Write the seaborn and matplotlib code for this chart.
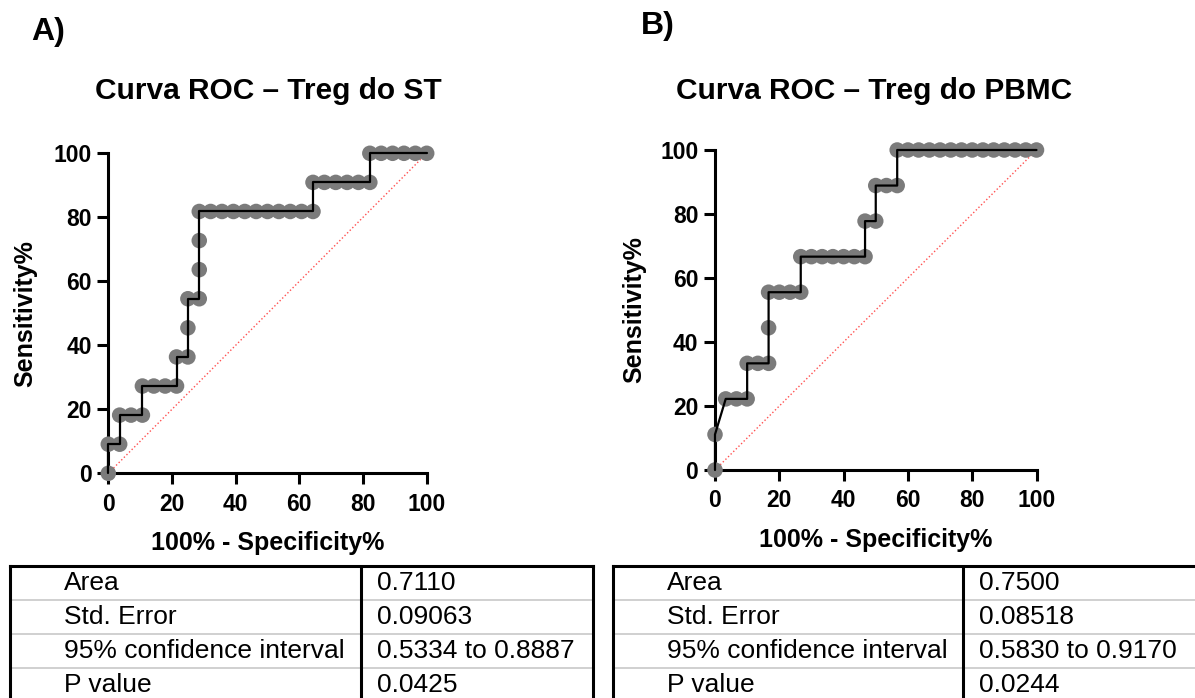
import matplotlib
matplotlib.use("Agg")
import matplotlib.pyplot as plt
import seaborn as sns
import pandas as pd

# ROC points (100% - Specificity%, Sensitivity%)
st_fpr = [0, 0, 3.571, 3.571, 7.143, 10.71, 10.71, 14.29, 17.86, 21.43, 21.43, 25.0, 25.0, 25.0,
          28.57, 28.57, 28.57, 28.57, 32.14, 35.71, 39.29, 42.86, 46.43, 50.0, 53.57, 57.14, 60.71,
          64.29, 64.29, 67.86, 71.43, 75.0, 78.57, 82.14, 82.14, 85.71, 89.29, 92.86, 96.43, 100.0]
st_sens = [0, 9.091, 9.091, 18.18, 18.18, 18.18, 27.27, 27.27, 27.27, 27.27, 36.36, 36.36, 45.45, 54.55,
           54.55, 63.64, 72.73, 81.82, 81.82, 81.82, 81.82, 81.82, 81.82, 81.82, 81.82, 81.82, 81.82,
           81.82, 90.91, 90.91, 90.91, 90.91, 90.91, 90.91, 100, 100, 100, 100, 100, 100]

pbmc_fpr = [0, 0, 3.333, 6.667, 10.0, 10.0, 13.33, 16.67, 16.67, 16.67, 20.0, 23.33, 26.67, 26.67,
            30.0, 33.33, 36.67, 40.0, 43.33, 46.67, 46.67, 50.0, 50.0, 53.33, 56.67, 56.67, 60.0,
            63.33, 66.67, 70.0, 73.33, 76.67, 80.0, 83.33, 86.67, 90.0, 93.33, 96.67, 100.0]
pbmc_sens = [0, 11.11, 22.22, 22.22, 22.22, 33.33, 33.33, 33.33, 44.44, 55.56, 55.56, 55.56, 55.56,
             66.67, 66.67, 66.67, 66.67, 66.67, 66.67, 66.67, 77.78, 77.78, 88.89, 88.89, 88.89,
             100, 100, 100, 100, 100, 100, 100, 100, 100, 100, 100, 100, 100, 100]

chance = [0, 100]
ticks = [0, 20, 40, 60, 80, 100]

row_labels = ["Area", "Std. Error", "95% confidence interval", "P value"]
st_values = ["0.7110", "0.09063", "0.5334 to 0.8887", "0.0425"]
pbmc_values = ["0.7500", "0.08518", "0.5830 to 0.9170", "0.0244"]

titles = ["Curva ROC – Treg do ST", "Curva ROC – Treg do PBMC"]
panels = ["A)", "B)"]

sns.set_style("ticks")
plt.rcParams["font.family"] = ["Liberation Sans", "DejaVu Sans"]
plt.rcParams.update({"text.color": "black", "axes.labelcolor": "black",
                     "xtick.color": "black", "ytick.color": "black",
                     "axes.edgecolor": "black"})

W, H = 1195, 698
fig = plt.figure(figsize=(W / 100, H / 100), dpi=100)


def px_axes(x0, x1, y_top, y_bot):
    return fig.add_axes([x0 / W, 1 - y_bot / H, (x1 - x0) / W, (y_bot - y_top) / H])


def roc_panel(ax, fpr, sens, ylab_x):
    df = pd.DataFrame({"fpr": fpr, "sens": sens})
    sns.scatterplot(data=df, x="fpr", y="sens", ax=ax, s=125, color="#7b7b7b",
                    edgecolor="none", clip_on=False, zorder=3)
    sns.lineplot(data=df, x="fpr", y="sens", ax=ax, sort=False, estimator=None,
                 color="black", lw=1.6, zorder=4)
    ax.plot(chance, chance, ls=":", color="#ff5050", lw=1.0, zorder=2)
    for c in ax.collections + ax.lines:
        c.set_clip_on(False)
    ax.set_xlim(0, 100)
    ax.set_ylim(0, 100)
    ax.set_xticks(ticks)
    ax.set_yticks(ticks)
    sns.despine(ax=ax)
    for s in ["left", "bottom"]:
        ax.spines[s].set_linewidth(2.2)
    ax.tick_params(axis="both", length=8, width=2.2, labelsize=16.5)
    ax.tick_params(axis="x", pad=6)
    ax.tick_params(axis="y", pad=4)
    for lab in ax.get_xticklabels() + ax.get_yticklabels():
        lab.set_fontweight("bold")
    ax.set_xlabel("100% - Specificity%", fontsize=18, fontweight="bold")
    ax.set_ylabel("Sensitivity%", fontsize=18, fontweight="bold")
    ax.xaxis.label.set_va("center")
    ax.yaxis.label.set_va("center")
    ax.xaxis.set_label_coords(0.5, -0.219)
    ax.yaxis.set_label_coords(ylab_x, 0.5)


def stats_table(ax, values, split, show_right=True):
    ax.set_xlim(0, 1)
    ax.set_ylim(4, 0)
    ax.set_xticks([])
    ax.set_yticks([])
    for s in ax.spines.values():
        s.set_linewidth(2.2)
        s.set_color("black")
    ax.spines["right"].set_visible(show_right)
    for r in range(1, len(row_labels)):
        ax.axhline(r, color="#c8c8c8", lw=1.2)
    ax.axvline(split, color="black", lw=2.2)
    for r, (lab, val) in enumerate(zip(row_labels, values)):
        ax.text(0.093, r + 0.5, lab, fontsize=19, va="center", ha="left")
        ax.text(split + 0.028, r + 0.5, val, fontsize=19, va="center", ha="left")


ax_a = px_axes(108.3, 426.7, 153.3, 473.3)
ax_b = px_axes(715, 1036.5, 150, 470)
roc_panel(ax_a, st_fpr, st_sens, -0.262)
roc_panel(ax_b, pbmc_fpr, pbmc_sens, -0.252)

tab_a = px_axes(10, 593, 566, 702)
tab_b = px_axes(613, 1197, 566, 702)
stats_table(tab_a, st_values, (361 - 10) / 583)
stats_table(tab_b, pbmc_values, (963 - 613) / 584, show_right=False)

fig.text(268 / W, 1 - 91 / H, titles[0], fontsize=21.5, fontweight="bold", ha="center", va="center")
fig.text(874 / W, 1 - 91 / H, titles[1], fontsize=21.5, fontweight="bold", ha="center", va="center")
fig.text(31 / W, 1 - 32 / H, panels[0], fontsize=23, fontweight="bold", ha="left", va="center")
fig.text(641 / W, 1 - 26 / H, panels[1], fontsize=23, fontweight="bold", ha="left", va="center")

fig.savefig("out.png", dpi=100, facecolor="white")
